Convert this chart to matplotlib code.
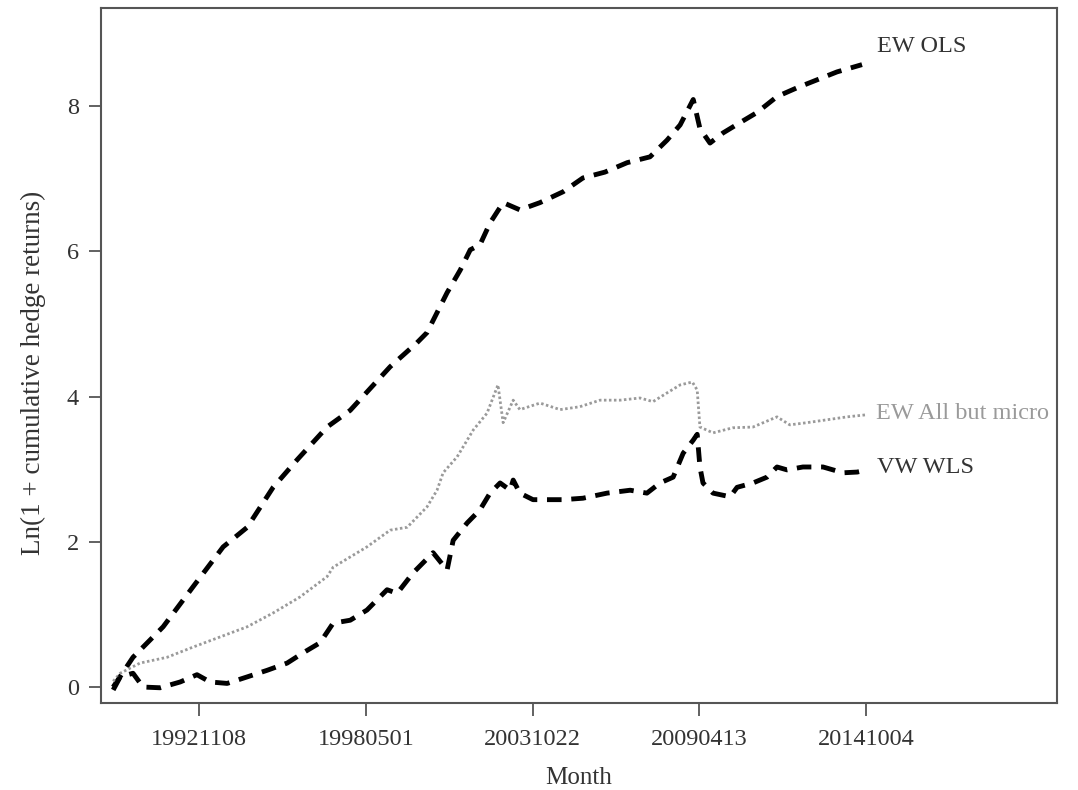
import matplotlib
matplotlib.use("Agg")
import matplotlib.pyplot as plt

plt.rcParams['font.family'] = ['Liberation Serif', 'DejaVu Serif']

# decimal-year positions and ln(1 + cumulative hedge returns)
ew_ols_x = [1990.04, 1990.69, 1991.68, 1992.66, 1993.65, 1994.44, 1995.29, 1996.08,
            1997.06, 1997.82, 1999.13, 2000.01, 2000.34, 2001.00, 2001.43, 2001.76,
            2002.08, 2002.41, 2002.84, 2003.39, 2004.05, 2004.81, 2005.46, 2006.18,
            2006.91, 2007.66, 2008.22, 2008.65, 2009.08, 2009.30, 2009.63, 2010.06,
            2010.61, 2011.17, 2011.83, 2012.48, 2013.14, 2013.80, 2014.62]
ew_ols_y = [0.00, 0.41, 0.83, 1.38, 1.93, 2.20, 2.75, 3.13,
            3.58, 3.81, 4.41, 4.74, 4.88, 5.43, 5.74, 6.02,
            6.09, 6.39, 6.67, 6.57, 6.67, 6.82, 7.01, 7.09,
            7.22, 7.30, 7.53, 7.74, 8.09, 7.69, 7.49, 7.63,
            7.77, 7.91, 8.13, 8.25, 8.36, 8.47, 8.57]

ew_abm_x = [1990.04, 1990.27, 1990.92, 1991.81, 1992.66, 1993.55, 1994.44, 1995.29,
            1996.17, 1997.06, 1997.26, 1998.37, 1999.13, 1999.69, 2000.34, 2000.67,
            2000.87, 2001.33, 2001.66, 2001.86, 2002.31, 2002.67, 2002.84, 2003.17,
            2003.39, 2004.05, 2004.71, 2005.36, 2006.02, 2006.68, 2007.33, 2007.76,
            2008.22, 2008.65, 2009.05, 2009.21, 2009.30, 2009.73, 2010.38, 2011.04,
            2011.83, 2012.25, 2012.81, 2013.47, 2014.13, 2014.79]
ew_abm_y = [0.08, 0.19, 0.33, 0.41, 0.55, 0.69, 0.83, 1.02,
            1.24, 1.52, 1.65, 1.93, 2.16, 2.20, 2.48, 2.71,
            2.95, 3.17, 3.40, 3.54, 3.77, 4.16, 3.64, 3.95,
            3.82, 3.91, 3.82, 3.86, 3.95, 3.95, 3.98, 3.93,
            4.05, 4.16, 4.20, 4.09, 3.58, 3.50, 3.57, 3.58,
            3.72, 3.61, 3.64, 3.68, 3.72, 3.75]

vw_wls_x = [1990.04, 1990.27, 1990.69, 1991.02, 1991.58, 1992.24, 1992.79, 1993.22,
            1993.78, 1994.44, 1995.09, 1995.75, 1996.27, 1996.83, 1997.26, 1997.82,
            1998.37, 1999.03, 1999.36, 1999.88, 2000.54, 2001.00, 2001.20, 2001.66,
            2002.08, 2002.41, 2002.74, 2003.07, 2003.17, 2003.39, 2003.82, 2004.28,
            2004.81, 2005.46, 2006.25, 2007.01, 2007.56, 2007.99, 2008.42, 2008.75,
            2009.08, 2009.21, 2009.30, 2009.40, 2009.73, 2010.29, 2010.52, 2011.04,
            2011.50, 2011.83, 2012.16, 2012.68, 2013.34, 2014.00, 2014.46, 2014.79]
vw_wls_y = [-0.04, 0.14, 0.19, 0.00, -0.01, 0.07, 0.17, 0.07,
            0.05, 0.14, 0.23, 0.33, 0.47, 0.61, 0.88, 0.92,
            1.06, 1.34, 1.29, 1.57, 1.85, 1.61, 2.02, 2.26,
            2.44, 2.67, 2.81, 2.71, 2.85, 2.67, 2.58, 2.58,
            2.58, 2.60, 2.67, 2.71, 2.67, 2.81, 2.89, 3.22,
            3.40, 3.48, 3.03, 2.81, 2.67, 2.62, 2.75, 2.81,
            2.89, 3.03, 2.99, 3.03, 3.03, 2.95, 2.96, 2.99]

tick_pos = [1992.86, 1998.33, 2003.81, 2009.28, 2014.76]
tick_labels = ['19921108', '19980501', '20031022', '20090413', '20141004']

fig = plt.figure(figsize=(10.78, 7.90), dpi=100)
ax = fig.add_axes([0.0937, 0.1101, 0.8868, 0.8798])

grey = '#9a9a9a'
ax.plot(ew_ols_x, ew_ols_y, color='black', lw=3.5, dashes=(3.0, 2.0),
        dash_capstyle='butt', solid_joinstyle='round')
ax.plot(ew_abm_x, ew_abm_y, color=grey, lw=2.0, dashes=(0.9, 0.9))
ax.plot(vw_wls_x, vw_wls_y, color='black', lw=3.5, dashes=(3.0, 2.0),
        dash_capstyle='butt', solid_joinstyle='round')

txt_kw = dict(fontsize=17.5, ha='left', va='center')
ax.text(2015.11, 8.82, 'EW OLS', color='#333333', **txt_kw)
ax.text(2015.08, 3.77, 'EW All but micro', color=grey, **txt_kw)
ax.text(2015.11, 3.02, 'VW WLS', color='#333333', **txt_kw)

ax.set_xlim(1989.64, 2021.02)
ax.set_ylim(-0.22, 9.35)
ax.set_xticks(tick_pos)
ax.set_xticklabels(tick_labels)
ax.set_yticks([0, 2, 4, 6, 8])

for s in ax.spines.values():
    s.set_color('#555555')
    s.set_linewidth(1.5)
ax.tick_params(axis='both', length=9, width=1.3, color='#555555',
               labelsize=17.5, labelcolor='#333333')
ax.tick_params(axis='x', pad=10)
ax.tick_params(axis='y', pad=7)

ax.set_xlabel('Month', fontsize=18, color='#333333', labelpad=12)
ax.set_ylabel('Ln(1 + cumulative hedge returns)', fontsize=19.5, color='#333333')
ax.yaxis.set_label_coords(-0.058, 0.475)

fig.savefig('out.png', dpi=100)
